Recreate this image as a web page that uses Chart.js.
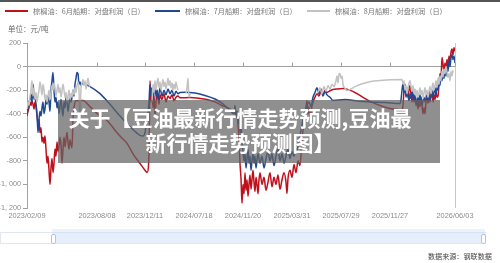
<!DOCTYPE html>
<html>
<head>
<meta charset="utf-8">
<script src="https://cdn.jsdelivr.net/npm/chart.js@4.4.1/dist/chart.umd.min.js"></script>
<style>
html, body { margin: 0; padding: 0; background: #fff; }
#wrap { position: relative; width: 500px; height: 263px; overflow: hidden; font-family: "Noto Sans CJK SC", "Noto Sans", sans-serif; }
#wrap canvas { position: absolute; left: 0; top: 0; }
.abs { position: absolute; white-space: nowrap; }
.lg { font-size: 7.2px; color: #777; line-height: 10px; top: 6px; }
.sw { position: absolute; height: 2px; top: 10px; }
</style>
</head>
<body>
<div id="wrap">
  <canvas id="chart" width="500" height="263"></canvas>
  <div class="abs" style="left:0;top:0;width:500px;height:2px;background:#555;"></div>
  <div class="sw" style="left:5px;width:23px;background:#c0101c;"></div>
  <div class="abs lg" style="left:33px;">棕榈油：6月船期：对盘利润（日）</div>
  <div class="sw" style="left:155px;width:25px;background:#1f4a93;"></div>
  <div class="abs lg" style="left:185px;">棕榈油：7月船期：对盘利润（日）</div>
  <div class="sw" style="left:307px;width:23px;background:#c2c2c2;"></div>
  <div class="abs lg" style="left:335px;">棕榈油：8月船期：对盘利润（日）</div>
  <div class="abs" style="left:8px;top:24px;font-size:7.5px;line-height:10px;color:#666;">单位：元/吨</div>

  <!-- slider -->
  <div class="abs" style="left:0;top:232px;width:484px;height:10px;border:1px solid #e1e6f1;background:#fff;"></div>
  <div class="abs" style="left:52px;top:229px;width:433px;height:3px;background:#edf1fb;"></div>
  <div class="abs" style="left:52px;top:232px;width:433px;height:11px;background:rgba(205,219,247,0.5);"></div>
  <div class="abs" style="left:51px;top:234px;width:3px;height:8px;border:1px solid #b3c3e3;border-radius:2px;background:#fff;"></div>
  <div class="abs" style="left:481px;top:234px;width:3px;height:8px;border:1px solid #b3c3e3;border-radius:2px;background:#fff;"></div>

  <div class="abs" style="left:428px;top:251px;font-size:7.1px;line-height:10px;color:#444;">数据来源：钢联数据</div>

  <!-- watermark banner -->
  <div class="abs" style="left:58px;top:100px;width:382px;height:63px;background:rgba(100,100,100,0.72);"></div>
  <div class="abs" style="left:60px;top:105px;width:360px;text-align:center;font-size:21px;line-height:25px;font-weight:700;color:#fff;">关于【豆油最新行情走势预测,豆油最<br>新行情走势预测图】</div>
</div>
<script>
// x = trading-day index from 2023/02/09
const tickPos = [0, 70, 118, 167, 216, 265, 314, 363, 428];
const tickLabels = ['2023/02/09', '2023/08/08', '2023/12/11', '2024/07/18', '2024/11/20',
  '2025/03/31', '2025/07/29', '2025/11/27', '2026/06/03'];

const seriesNames = ['棕榈油：6月船期：对盘利润（日）', '棕榈油：7月船期：对盘利润（日）', '棕榈油：8月船期：对盘利润（日）'];

const june = [
  [0,-420],[1,-380],[2,-350],[3,-300],[4,-330],[5,-290],[6,-320],[7,-360],[8,-300],[9,-340],
  [10,-420],[11,-480],[12,-450],[13,-560],[14,-520],[15,-640],[16,-600],[17,-650],[18,-590],[19,-700],
  [20,-820],[21,-760],[22,-880],[23,-1000],[24,-860],[25,-780],[26,-900],[27,-820],[28,-700],[29,-760],
  [30,-640],[31,-720],[32,-680],[33,-600],[34,-660],[35,-820],[36,-700],[37,-600],[38,-680],[39,-620],
  [40,-560],[41,-640],[42,-700],[43,-620],[44,-660],[45,-690],[46,-450],[47,-350],[49,-290],[56,-288],
  [63,-340],[73,-420],[80,-457],[88,-540],[93,-590],[100,-652],[106,-740],[113,-822],[118,-880],[120,-898],
  [122,-750],[123,-120],[124,-300],[125,-200],[126,-350],[127,-250],[128,-420],[129,-300],[130,-200],[131,-260],
  [132,-320],[133,-240],[135,-280],[137,-230],[139,-300],[141,-250],[143,-270],[145,-240],[147,-290],[149,-260],
  [151,-250],[153,-265],[163,-262],[173,-270],[180,-280],[188,-300],[195,-330],[200,-347],[205,-370],[208,-390],
  [209,-420],[210,-380],[211,-500],[212,-600],[213,-820],[214,-950],[215,-1160],[216,-1000],[217,-1080],[218,-900],
  [219,-1050],[220,-960],[221,-1100],[222,-1000],[223,-920],[224,-1040],[225,-960],[226,-880],[227,-980],[228,-1060],
  [229,-940],[230,-1000],[231,-1080],[232,-960],[233,-900],[235,-1000],[237,-940],[239,-1050],[241,-980],[243,-900],
  [245,-1020],[247,-940],[249,-1000],[251,-920],[253,-1040],[255,-960],[257,-900],[259,-980],[260,-1076],[261,-950],
  [263,-880],[265,-940],[267,-830],[269,-900],[271,-800],[273,-840],[275,-620],[277,-480],[279,-350],[280,-288],
  [281,-400],[282,-340],[283,-440],[284,-380],[286,-300],[288,-260],[290,-230],[292,-250],[294,-210],[296,-240],
  [298,-200],[300,-220],[303,-205],[306,-195],[310,-190],[316,-186],[323,-200],[330,-230],[336,-262],[343,-295],
  [353,-330],[363,-355],[370,-364],[375,-370],
  [376,-330],[377,-200],[378,-150],[379,-230],[380,-180],[381,-260],[382,-200],[383,-160],[384,-240],[385,-300],
  [386,-220],[387,-280],[388,-250],[389,-330],[390,-290],[391,-360],[392,-300],[393,-340],[394,-260],[395,-330],
  [396,-400],[397,-350],[398,-400],[399,-300],[400,-250],[401,-310],[402,-270],[403,-200],[404,-260],[405,-230],
  [406,-300],[407,-240],[408,-280],[409,-220],[410,-260],[411,-250],[412,-150],[413,-60],[414,-100],[415,76],
  [416,20],[417,-40],[418,30],[419,-20],[420,60],[421,0],[422,90],[423,40],[424,120],[425,150],
  [426,100],[427,160],[428,130]
];

const july = [
  [0,-400],[1,-350],[2,-300],[3,-280],[4,-240],[5,-300],[6,-150],[7,-280],[8,-260],[9,-320],
  [10,-400],[11,-560],[12,-450],[13,-380],[14,-420],[15,-350],[16,-300],[17,-400],[18,-360],[19,-280],
  [20,-320],[21,-250],[22,-300],[23,-380],[24,-200],[25,-120],[26,-50],[27,-200],[28,-300],[29,-260],
  [30,-350],[31,-300],[32,-400],[33,-340],[34,-280],[35,-360],[36,-420],[37,-300],[38,-350],[39,-260],
  [40,-300],[41,-380],[42,-320],[43,-240],[44,-300],[45,-260],[46,-200],[47,-250],[48,-150],[49,-100],
  [50,-50],[51,-60],[52,-150],[53,-130],[54,-160],[55,-144],[63,-170],[73,-230],[83,-320],[93,-420],
  [103,-510],[110,-565],[113,-584],[116,-590],[118,-560],[120,-450],[122,-300],[123,-150],[124,-250],[125,-180],
  [126,-300],[127,-220],[128,-160],[129,-250],[130,-200],[131,-280],[132,-230],[133,-180],[135,-250],[137,-200],
  [139,-240],[141,-190],[143,-230],[145,-200],[147,-250],[149,-210],[151,-230],[153,-220],[158,-218],[168,-225],
  [178,-245],[188,-275],[195,-310],[203,-373],[207,-400],
  [208,-330],[209,-420],[210,-380],[211,-480],[212,-420],[213,-560],[214,-500],[215,-650],[216,-720],[217,-800],
  [218,-740],[219,-860],[220,-780],[221,-700],[222,-820],[223,-760],[224,-880],[225,-800],[226,-740],[227,-820],
  [228,-760],[229,-860],[230,-790],[231,-740],[233,-820],[235,-760],[237,-860],[239,-780],[241,-720],[243,-800],
  [245,-740],[247,-840],[249,-760],[251,-700],[253,-800],[255,-740],[257,-820],[259,-760],[261,-700],[263,-780],
  [265,-720],[267,-760],[269,-700],[270,-711],[272,-620],[274,-540],[276,-450],[278,-380],[280,-330],[282,-300],
  [284,-340],[286,-260],[288,-220],[290,-180],[292,-230],[294,-190],[296,-250],[298,-210],[300,-240],[303,-260],
  [306,-288],[318,-280],[333,-295],[343,-300],[358,-305],[373,-313],
  [374,-280],[375,-200],[376,-144],[377,-220],[378,-180],[379,-260],[380,-200],[381,-250],[382,-290],[383,-230],
  [384,-270],[385,-200],[386,-250],[387,-300],[388,-240],[389,-280],[390,-320],[391,-260],[392,-300],[393,-240],
  [394,-280],[395,-330],[396,-290],[397,-260],[398,-300],[399,-270],[400,-220],[401,-280],[402,-240],[403,-300],
  [404,-250],[405,-200],[406,-260],[407,-220],[408,-180],[409,-240],[410,-150],[411,-200],[412,-120],[413,-160],
  [414,-60],[415,-120],[416,-50],[417,-100],[418,-20],[419,-80],[420,10],[421,-40],[422,50],[423,0],
  [424,80],[425,100],[426,60],[427,90],[428,30]
];

const august = [
  [0,-360],[1,-300],[2,-330],[3,-250],[4,-200],[5,-120],[6,-250],[7,-180],[8,-280],[9,-220],
  [10,-300],[11,-250],[12,-200],[13,-130],[14,-180],[15,-240],[16,-150],[17,-200],[18,-280],[19,-240],
  [20,-300],[21,-260],[22,-200],[23,-280],[24,-220],[25,-160],[26,-200],[27,-140],[28,-180],[29,-250],
  [30,-200],[31,-150],[32,-220],[33,-180],[34,-260],[35,-210],[36,-150],[37,-200],[38,-260],[39,-220],
  [40,-300],[41,-250],[42,-200],[43,-280],[44,-230],[45,-260],[46,-200],[47,-240],[48,-180],[49,-220],
  [50,-160],[51,-130],[52,-200],[53,-500],[54,-180],[55,-140],[56,-110],[57,-160],[58,-120],[59,-190],
  [60,-140],[61,-100],[62,-150],[63,-170],[64,null],
  [125,-300],[126,-150],[127,-220],[128,-120],[129,-200],[130,-140],[131,-100],[132,-180],[133,-130],[134,-200],
  [135,-150],[136,-110],[137,-170],[138,-130],[139,-190],[140,-150],[141,-100],[142,-160],[143,-120],[144,-180],
  [145,-140],[146,-200],[147,-150],[148,-190],[149,-130],[150,-170],[151,-200],[152,null],
  [159,-230],[160,-180],[161,-100],[162,-260],[163,-230],[164,null],
  [291,-220],[293,-180],[295,-230],[297,-170],[299,-210],[301,-160],[303,-190],[305,-150],[307,-170],[309,-120],
  [310,-80],[311,-140],[312,-60],[313,-59],[314,-100],[315,-80],[316,-150],[318,-186],[320,-203],[328,-170],
  [336,-144],[345,-125],[353,-119],[363,-112],[375,-110],
  [376,-150],[377,-120],[378,-200],[379,-160],[380,-230],[381,-180],[382,-140],[383,-119],[384,-170],[385,-210],
  [386,-160],[387,-230],[388,-190],[389,-250],[390,-200],[391,-260],[392,-220],[393,-180],[394,-240],[395,-200],
  [396,-270],[397,-220],[398,-180],[399,-240],[400,-200],[401,-260],[402,-210],[403,-170],[404,-230],[405,-180],
  [406,-140],[407,-200],[408,-160],[409,-120],[410,-180],[411,-100],[412,-150],[413,-80],[414,-120],[415,-40],
  [416,-90],[417,-20],[418,-60],[419,0],[420,-50],[421,-90],[422,-60],[423,-120],[424,-40],[425,-80],
  [426,-30]
];

const numFont = { family: "'Liberation Sans', Arial, sans-serif", size: 7.2 };
const axisColor = '#a0a0a0';

function fmtNum(v) {
  // -1000 -> "-1, 000"
  return v.toLocaleString('en-US').replace(',', ', ');
}

// little tick marks sitting on the zero line
const zeroTicks = {
  id: 'zeroTicks',
  beforeDatasetsDraw(chart) {
    const x = chart.scales.x, y = chart.scales.y;
    const y0 = y.getPixelForValue(0);
    const ctx = chart.ctx;
    ctx.save();
    ctx.strokeStyle = axisColor;
    ctx.lineWidth = 1;
    ctx.beginPath();
    tickPos.forEach(v => {
      const px = Math.round(x.getPixelForValue(v)) + 0.5;
      ctx.moveTo(px, y0);
      ctx.lineTo(px, y0 - 4);
    });
    ctx.stroke();
    ctx.restore();
  }
};

function lineSet(label, data, color, order) {
  return {
    label: label,
    data: data,
    borderColor: color,
    backgroundColor: color,
    borderWidth: 1.5,
    pointRadius: 0,
    cubicInterpolationMode: 'monotone',
    spanGaps: false,
    order: order
  };
}

new Chart(document.getElementById('chart'), {
  type: 'line',
  data: {
    datasets: [
      lineSet(seriesNames[0], june, '#c0101c', 2),
      lineSet(seriesNames[1], july, '#1f4a93', 1),
      lineSet(seriesNames[2], august, '#c2c2c2', 0)
    ]
  },
  options: {
    responsive: false,
    animation: false,
    events: [],
    layout: { padding: { left: 0, right: 45, top: 43, bottom: 39 } },
    plugins: { legend: { display: false }, tooltip: { enabled: false } },
    scales: {
      x: {
        type: 'linear',
        min: 0,
        max: 428,
        afterBuildTicks: s => { s.ticks = tickPos.map(v => ({ value: v })); },
        afterFit: s => { s.height = 16; },
        ticks: {
          autoSkip: false,
          maxRotation: 0,
          padding: 4,
          color: '#8c8c8c',
          font: { family: numFont.family, size: 7.4 },
          callback: (v, i) => tickLabels[i]
        },
        grid: {
          drawTicks: false,
          color: c => (c.tick && c.tick.value === 428) ? '#c8c8c8' : 'rgba(0,0,0,0)'
        },
        border: { display: false }
      },
      y: {
        min: -1200,
        max: 200,
        afterFit: s => { s.width = 27; },
        ticks: {
          stepSize: 200,
          padding: 2,
          color: '#8c8c8c',
          font: numFont,
          callback: v => fmtNum(v)
        },
        grid: {
          color: c => (c.tick && c.tick.value === 0) ? axisColor : 'rgba(0,0,0,0)',
          tickColor: axisColor,
          tickLength: 4
        },
        border: { display: true, color: axisColor }
      }
    }
  },
  plugins: [zeroTicks]
});
</script>
</body>
</html>
